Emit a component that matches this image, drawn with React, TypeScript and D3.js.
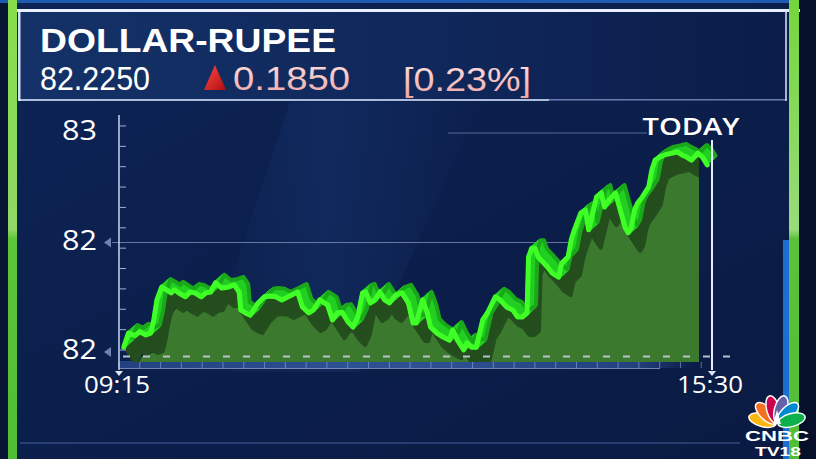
import React from 'react';
import * as d3 from 'd3';

// minutes after 09:15 and USD/INR level
const minutes = [3,6,10,13,17,20,22,24,27,30,33,35,39,42,45,48,52,55,58,61,65,69,73,76,77,80,83,88,92,95,99,103,107,113,116,120,123,127,132,135,138,141,145,148,151,154,156,159,162,165,168,171,175,179,183,186,188,192,195,197,201,205,209,211,214,218,220,223,226,230,233,238,241,245,249,252,255,258,259,261,263,265,271,274,278,280,284,286,288,292,295,297,299,302,305,307,310,314,317,320,322,324,326,328,331,335,337,339,342,345,350,353,356,359,362,366,369,372];
const values = [82.011,82.043,82.037,82.046,82.039,82.043,82.073,82.119,82.148,82.142,82.135,82.142,82.132,82.126,82.137,82.135,82.126,82.135,82.137,82.158,82.146,82.148,82.153,82.137,82.096,82.089,82.084,82.112,82.126,82.128,82.126,82.119,82.126,82.137,82.103,82.089,82.096,82.119,82.107,82.073,82.089,82.091,82.068,82.057,82.080,82.135,82.137,82.112,82.119,82.137,82.119,82.112,82.130,82.135,82.112,82.066,82.066,82.119,82.089,82.057,82.043,82.034,82.027,82.050,82.027,82.005,82.021,82.011,82.011,82.073,82.089,82.126,82.119,82.103,82.096,82.080,82.080,82.089,82.217,82.237,82.237,82.217,82.194,82.180,82.171,82.203,82.217,82.256,82.279,82.317,82.324,82.279,82.308,82.354,82.363,82.331,82.347,82.363,82.324,82.285,82.272,82.285,82.324,82.340,82.354,82.377,82.416,82.438,82.445,82.450,82.454,82.457,82.450,82.445,82.438,82.454,82.445,82.427];

const yTickValues = [82.0, 82.25, 82.5];
const yTickLabels = ['82', '82', '83'];
const xTickMinutes = [0, 375];
const xTickLabels = ['09:15', '15:30'];

const title = 'DOLLAR-RUPEE';
const lastPrice = '82.2250';
const change = '0.1850';
const changePct = '[0.23%]';
const periodLabel = 'TODAY';

export default function App() {
  const W = 816, H = 459;
  const x = d3.scaleLinear().domain([0, 375]).range([119, 712]);
  const y = d3.scaleLinear().domain([82.0, 82.5]).range([352, 133]);
  const n = Math.min(minutes.length, values.length);
  const pts: [number, number][] = d3.range(n).map(i => [x(minutes[i]), y(values[i])]);

  const line = d3.line<[number, number]>().x(d => d[0]).y(d => d[1]);
  const linePath = line(pts) || '';

  // perspective offset for the floor area
  const shifted: [number, number][] = pts.map(([px, py]) => {
    const f = (px - 119) / 593;
    return [px + 14 - 8 * f, py + 20 - 8 * f];
  });
  const area = d3.area<[number, number]>().x(d => d[0]).y0(362).y1(d => d[1]).curve(d3.curveBasis);
  const areaPath = area(shifted) || '';

  const shadowSteps = d3.range(0, 1.0001, 1 / 14);
  const slabSteps = d3.range(0, 1.0001, 1 / 10);

  const minorY = d3.range(12).map(i => 82.0 + i * 0.0465);
  const minorX = d3.range(0, 375, 13.15);
  const dashStart = 123, dashEnd = 730;

  // CNBC peacock
  const pcx = 777, pcy = 424;
  const feathers = ['#fcb711', '#f37021', '#cc004c', '#6460aa', '#0089d0', '#0db14b'];

  const sans = "'Liberation Sans', Arial, sans-serif";
  const geo = "'Open Sans', 'DejaVu Sans', sans-serif";

  return (
    <svg width={W} height={H} style={{ position: 'absolute', left: 0, top: 0, display: 'block' }}
      xmlns="http://www.w3.org/2000/svg">
      <defs>
        <linearGradient id="bg" x1="0" y1="0" x2="1" y2="1">
          <stop offset="0" stopColor="#0d2456" />
          <stop offset="1" stopColor="#0a1a42" />
        </linearGradient>
        <linearGradient id="hdr" x1="0" y1="0" x2="1" y2="0">
          <stop offset="0" stopColor="#143268" />
          <stop offset="0.6" stopColor="#0f2659" />
          <stop offset="1" stopColor="#0b1d48" />
        </linearGradient>
        <linearGradient id="sheen" x1="0" y1="0" x2="1" y2="0">
          <stop offset="0" stopColor="#2a5aa8" stopOpacity="0" />
          <stop offset="0.45" stopColor="#2a5aa8" stopOpacity="0.16" />
          <stop offset="1" stopColor="#2a5aa8" stopOpacity="0" />
        </linearGradient>
        <linearGradient id="greenBarL" x1="0" y1="0" x2="0" y2="1">
          <stop offset="0" stopColor="#86de4a" />
          <stop offset="0.5" stopColor="#8fd866" />
          <stop offset="0.52" stopColor="#5cc53a" />
          <stop offset="1" stopColor="#4fbf34" />
        </linearGradient>
        <linearGradient id="greenBarR" x1="0" y1="0" x2="0" y2="1">
          <stop offset="0" stopColor="#74d63c" />
          <stop offset="0.5" stopColor="#98dc7a" />
          <stop offset="0.52" stopColor="#5ac23a" />
          <stop offset="1" stopColor="#52bd36" />
        </linearGradient>
        <linearGradient id="pink" x1="0" y1="0" x2="0" y2="1">
          <stop offset="0" stopColor="#fde2e2" />
          <stop offset="1" stopColor="#eea6a6" />
        </linearGradient>
        <linearGradient id="tri" x1="0" y1="0" x2="1" y2="1">
          <stop offset="0" stopColor="#ff4a4a" />
          <stop offset="1" stopColor="#b00d0d" />
        </linearGradient>
        <linearGradient id="strip" x1="0" y1="0" x2="1" y2="0">
          <stop offset="0" stopColor="#2b4d92" />
          <stop offset="0.5" stopColor="#3a62ad" />
          <stop offset="0.9" stopColor="#2b4d92" />
          <stop offset="1" stopColor="#2b4d92" stopOpacity="0" />
        </linearGradient>
        <clipPath id="floorClip">
          <rect x={119} y={0} width={580} height={362} />
        </clipPath>
      </defs>

      {/* background */}
      <rect x={0} y={0} width={W} height={H} fill="url(#bg)" />
      <rect x={0} y={0} width={9} height={H} fill="#081633" />
      <rect x={798} y={0} width={18} height={H} fill="#06102a" />
      <polygon points="290,102 480,102 360,372 200,372" fill="url(#sheen)" />

      {/* header panel */}
      <rect x={19} y={10} width={768} height={90} fill="url(#hdr)" />
      <rect x={0} y={0} width={790} height={3} fill="#1f5bb0" />
      <rect x={17} y={9} width={783} height={3} fill="#e8f0ff" />
      <rect x={19} y={99} width={530} height={2} fill="#c9d8f5" opacity={0.85} />
      <rect x={549} y={99} width={238} height={1.5} fill="#8fa6d6" opacity={0.7} />
      <rect x={18} y={10} width={2.5} height={91} fill="#e8f0ff" opacity={0.9} />
      <rect x={785} y={10} width={2} height={91} fill="#cfdcf5" opacity={0.8} />

      {/* green side bars */}
      <rect x={8} y={0} width={9} height={H} fill="url(#greenBarL)" />
      <rect x={783} y={240} width={6} height={H - 240} fill="#1c6fd0" />
      <rect x={789} y={0} width={10} height={H} fill="url(#greenBarR)" />

      {/* header texts */}
      <text x={40} y={52} fill="#ffffff" fontFamily={sans} fontWeight={700}
        fontSize={33} textLength={296} lengthAdjust="spacingAndGlyphs">{title}</text>
      <text x={40} y={90} fill="#ffffff" fontFamily={sans} fontWeight={400}
        fontSize={34} textLength={110} lengthAdjust="spacingAndGlyphs">{lastPrice}</text>
      <polygon points="215,65 226,90 204,90" fill="url(#tri)" />
      <text x={233} y={90} fill="url(#pink)" fontFamily={sans} fontWeight={400}
        fontSize={34} textLength={117} lengthAdjust="spacingAndGlyphs">{change}</text>
      <text x={403} y={91} fill="url(#pink)" fontFamily={sans} fontWeight={400}
        fontSize={34} textLength={128} lengthAdjust="spacingAndGlyphs">{changePct}</text>

      {/* grid */}
      <line x1={112} x2={694} y1={y(yTickValues[1])} y2={y(yTickValues[1])} stroke="#aebfe3" strokeOpacity={0.55} strokeWidth={1.2} />
      <line x1={448} x2={647} y1={y(yTickValues[2])} y2={y(yTickValues[2])} stroke="#aebfe3" strokeOpacity={0.45} strokeWidth={1.2} />

      {/* x strip */}
      <rect x={119} y={361} width={575} height={7} fill="url(#strip)" opacity={0.75} />
      <line x1={119} x2={660} y1={368.5} y2={368.5} stroke="#b9c9ee" strokeOpacity={0.6} />
      {minorX.map((m, i) => (
        <line key={'mx' + i} x1={x(m)} x2={x(m)} y1={362} y2={368} stroke="#8ea6da" strokeOpacity={0.6} />
      ))}

      {/* floor area, shadow, slab, line */}
      <g clipPath="url(#floorClip)">
        <path d={areaPath} fill="#3b7a2e" />
        {shadowSteps.map((t, i) => (
          <path key={'sh' + i} d={linePath} transform={`translate(${12 * t},${18 * t})`}
            fill="none" stroke="#244e1d" strokeWidth={4} strokeLinejoin="round" />
        ))}
      </g>
      {slabSteps.map((t, i) => (
        <path key={'sl' + i} d={linePath} transform={`translate(${9 * t},${-8 * t})`}
          fill="none" stroke={i === slabSteps.length - 1 ? '#1aa81a' : '#22cf22'} strokeWidth={4} strokeLinejoin="round" />
      ))}
      <path d={linePath} fill="none" stroke="#40ff26" strokeWidth={5} strokeLinejoin="round" strokeLinecap="round" />

      {/* dashed baseline */}
      <line x1={dashStart} x2={dashEnd} y1={356.5} y2={356.5} stroke="#b8c0cc" strokeWidth={2} strokeDasharray="7,13" />

      {/* y axis */}
      <line x1={119} x2={119} y1={115} y2={370} stroke="#c9d6f2" strokeWidth={1.5} />
      {minorY.map((v, i) => (
        <line key={'my' + i} x1={119} x2={126} y1={y(v) - 2} y2={y(v) - 2} stroke="#9db0da" strokeWidth={1} />
      ))}
      {yTickValues.map((v, i) => (
        <g key={'yt' + i}>
          <text x={97} y={y(v) + 7} textAnchor="end" fill="#ffffff" fontFamily={geo}
            fontWeight={500} fontSize={27} textLength={35} lengthAdjust="spacingAndGlyphs">{yTickLabels[i]}</text>
          {i < 2 && <polygon points={`${104},${y(v)} ${111},${y(v) - 5} ${111},${y(v) + 5}`} fill="#6f82ad" />}
        </g>
      ))}

      {/* today line */}
      <line x1={712} x2={712} y1={140} y2={370} stroke="#e6ecfa" strokeWidth={2} />
      {xTickMinutes.map((m, i) => (
        <g key={'xt' + i}>
          <polygon points={`${x(m) - 4},${371} ${x(m) + 4},${371} ${x(m)},${376}`} fill="#dfe6f5" />
          <text x={x(m) - 2} y={393} textAnchor="middle" fill="#ffffff" fontFamily={geo}
            fontWeight={500} fontSize={24} textLength={66} lengthAdjust="spacingAndGlyphs">{xTickLabels[i]}</text>
        </g>
      ))}
      <text x={691} y={135} textAnchor="middle" fill="#ffffff" fontFamily={geo}
        fontWeight={600} fontSize={23} textLength={97} lengthAdjust="spacingAndGlyphs">{periodLabel}</text>

      {/* bottom border */}
      <line x1={20} x2={740} y1={443} y2={443} stroke="#5d7fc4" strokeOpacity={0.35} strokeWidth={2} />

      {/* CNBC TV18 logo */}
      <g>
        {feathers.map((c, i) => {
          const ang = -75 + i * 30;
          return (
            <ellipse key={'f' + i} cx={pcx} cy={pcy - 15} rx={6.5} ry={14} fill={c} stroke="#ffffff" strokeWidth={1.5}
              transform={`rotate(${ang},${pcx},${pcy})`} />
          );
        })}
        <path d={`M${pcx - 4},${pcy} L${pcx},${pcy - 14} L${pcx + 4},${pcy} Z`} fill="#ffffff" />
        <text x={pcx} y={441} textAnchor="middle" fill="#ffffff" fontFamily={sans} fontWeight={700}
          fontSize={14} textLength={64} lengthAdjust="spacingAndGlyphs">CNBC</text>
        <text x={pcx + 1} y={456} textAnchor="middle" fill="#ffffff" fontFamily={sans} fontWeight={700}
          fontSize={12} textLength={46} lengthAdjust="spacingAndGlyphs">TV18</text>
      </g>
    </svg>
  );
}
